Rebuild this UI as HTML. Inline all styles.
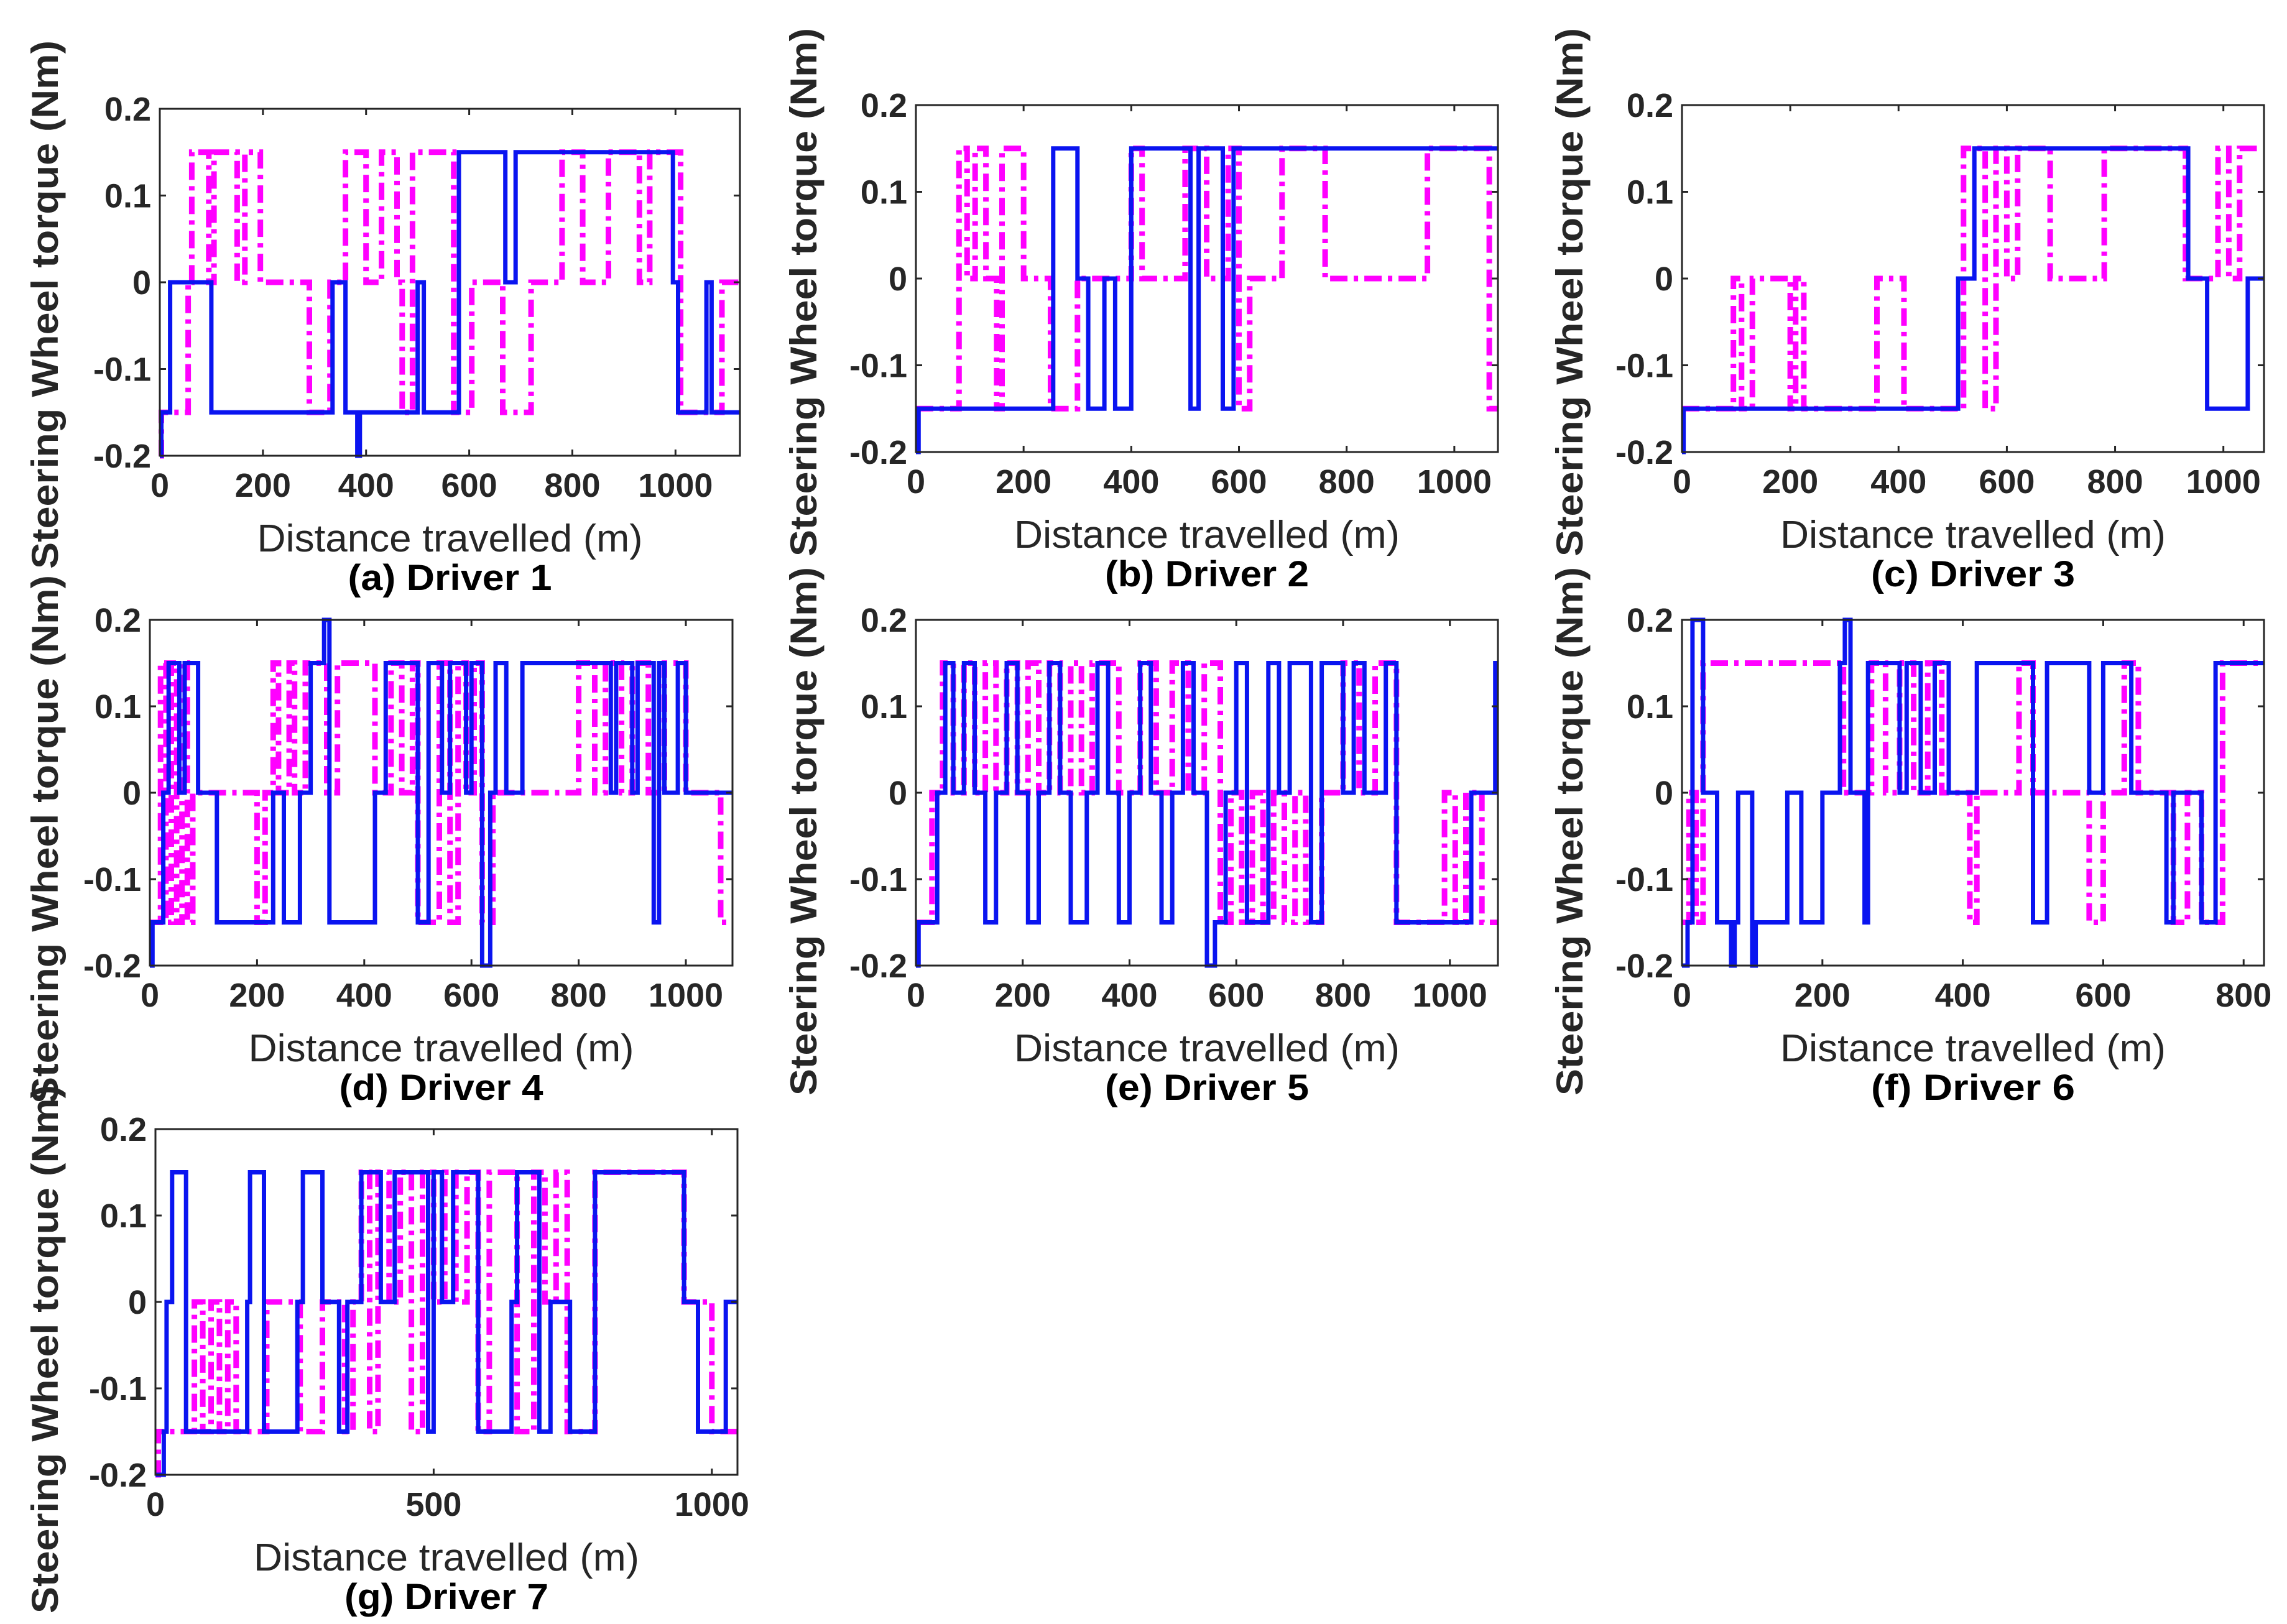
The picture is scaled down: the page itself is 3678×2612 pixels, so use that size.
<!DOCTYPE html>
<html><head><meta charset="utf-8">
<style>
html,body{margin:0;padding:0;background:#fff;}
svg{display:block;}
text{font-family:"Liberation Sans",Arial,sans-serif;}
</style></head>
<body>
<svg id="fig" width="3678" height="2612" viewBox="0 0 3678 2612" xmlns="http://www.w3.org/2000/svg"></svg>
<script>
// ---- data (step series: y[i] holds from x[i] to x[i+1]) ----
const panelTitles = ["(a) Driver 1","(b) Driver 2","(c) Driver 3","(d) Driver 4","(e) Driver 5","(f) Driver 6","(g) Driver 7"];
const xMaxes = [1125,1081,1075,1087,1090,829,1046];
const xTickSets = [[0,200,400,600,800,1000],[0,200,400,600,800,1000],[0,200,400,600,800,1000],[0,200,400,600,800,1000],[0,200,400,600,800,1000],[0,200,400,600,800],[0,500,1000]];
const yTicks = [-0.2,-0.1,0,0.1,0.2];
const yTickLabels = ["-0.2","-0.1","0","0.1","0.2"];

const blueX1 = [0,3,20,100,335,360,383,388,500,512,580,670,690,995,1005,1060,1070,1125];
const blueY1 = [-0.2,-0.15,0,-0.15,0,-0.15,-0.2,-0.15,0,-0.15,0.15,0,0.15,0,-0.15,0,-0.15];
const magX1 = [0,3,55,62,95,105,150,165,195,290,330,360,400,430,460,470,490,570,605,665,720,780,820,870,930,950,1010,1090,1125];
const magY1 = [-0.2,-0.15,0,0.15,0,0.15,0,0.15,0,-0.15,0,0.15,0,0.15,0,-0.15,0.15,-0.15,0,-0.15,0,0.15,0,0.15,0,0.15,-0.15,0];

const blueX2 = [0,5,255,300,320,350,370,400,510,525,570,590,1081];
const blueY2 = [-0.2,-0.15,0.15,0,-0.15,0,-0.15,0.15,-0.15,0.15,-0.15,0.15];
const magX2 = [0,80,95,110,130,150,160,200,250,300,310,400,420,500,540,580,600,620,680,760,950,1065,1081];
const magY2 = [-0.15,0.15,0,0.15,0,-0.15,0.15,0,-0.15,0,0,0.15,0,0.15,0,0.15,-0.15,0,0.15,0,0.15,-0.15,0];

const blueX3 = [0,3,510,540,935,970,1045,1075];
const blueY3 = [-0.2,-0.15,0,0.15,0,-0.15,0];
const magX3 = [0,95,110,130,200,210,225,360,410,520,560,580,600,620,680,780,930,990,1010,1030,1075];
const magY3 = [-0.15,0,-0.15,0,-0.15,0,-0.15,0,-0.15,0.15,-0.15,0.15,0,0.15,0,0.15,0,0.15,0,0.15];

const blueX4 = [0,5,25,35,55,65,90,125,230,250,280,300,325,335,420,440,500,520,545,560,590,600,620,635,645,665,695,700,860,870,900,910,940,950,960,985,1000,1087];
const blueY4 = [-0.2,-0.15,0,0.15,0,0.15,0,-0.15,0,-0.15,0,0.15,0.2,-0.15,0,0.15,-0.15,0.15,0,0.15,0,0.15,-0.2,0,0.15,0,0.15,0.15,0,0.15,0,0.15,-0.15,0.15,0,0.15,0];
const magX4 = [0,20,30,40,50,60,70,80,200,215,230,240,260,270,290,300,330,350,380,420,450,470,490,500,540,560,575,590,605,620,640,800,830,850,880,900,930,960,1000,1065,1087];
const magY4 = [-0.15,0.15,-0.15,0.15,-0.15,0.15,-0.15,0,-0.15,0,0.15,0,0.15,0,0.15,0.15,0,0.15,0.15,0,0.15,0,0.15,-0.15,0.15,-0.15,0.15,0,0.15,-0.15,0,0.15,0,0.15,0,0.15,0,0.15,0,-0.15];

const blueX5 = [0,5,40,55,70,90,110,130,150,170,190,210,230,250,270,290,320,340,360,380,400,420,440,460,480,500,520,545,560,580,600,620,660,680,700,740,760,800,820,840,880,900,1040,1085,1090];
const blueY5 = [-0.2,-0.15,0,0.15,0,0.15,0,-0.15,0,0.15,0,-0.15,0,0.15,0,-0.15,0,0.15,0,-0.15,0,0.15,0,-0.15,0,0.15,0,-0.2,-0.15,0,0.15,-0.15,0.15,0,0.15,-0.15,0.15,0,0.15,0,0.15,-0.15,0,0.15];
const magX5 = [0,30,50,70,90,110,130,150,170,190,210,230,250,270,290,310,330,350,380,420,450,480,510,540,570,590,610,630,650,670,690,710,730,760,800,830,860,900,940,990,1010,1030,1060,1090];
const magY5 = [-0.15,0,0.15,0,0.15,0,0.15,0,0.15,0,0.15,0,0.15,0,0.15,0,0.15,0.15,0,0.15,0,0.15,0,0.15,-0.15,0,-0.15,0,-0.15,0,-0.15,0,-0.15,0,0.15,0,0.15,-0.15,-0.15,0,-0.15,0,-0.15];

const blueX6 = [0,8,15,30,50,70,75,80,100,105,110,150,170,200,225,232,240,260,265,310,320,340,360,380,420,500,520,580,600,640,690,700,740,760,829];
const blueY6 = [-0.2,-0.15,0.2,0,-0.15,-0.2,-0.15,0,-0.2,-0.15,-0.15,0,-0.15,0,0.15,0.2,0,-0.15,0.15,0,0.15,0,0.15,0,0.15,-0.15,0.15,0,0.15,0,-0.15,0,-0.15,0.15];
const magX6 = [0,10,20,30,230,270,290,310,330,350,370,410,420,480,500,580,600,630,650,700,720,740,770,829];
const magY6 = [-0.15,0,-0.15,0.15,0,0.15,0,0.15,0,0.15,0,-0.15,0,0.15,0,-0.15,0,0.15,0,-0.15,0,-0.15,0.15];

const blueX7 = [0,15,20,30,55,165,170,195,255,265,300,330,345,370,405,430,490,500,515,535,580,640,650,690,710,745,790,950,975,1025,1046];
const blueY7 = [-0.2,-0.15,0,0.15,-0.15,0,0.15,-0.15,0,0.15,0,-0.15,0,0.15,0,0.15,-0.15,0.15,0,0.15,-0.15,0,0.15,-0.15,0,-0.15,0.15,0,-0.15,0];
const magX7 = [0,5,70,85,100,115,130,145,160,200,260,300,340,355,370,385,400,420,440,460,480,500,520,540,560,580,600,650,680,700,720,740,790,950,1000,1046];
const magY7 = [-0.2,-0.15,0,-0.15,0,-0.15,0,-0.15,-0.15,0,-0.15,0,-0.15,0,0.15,-0.15,0.15,0,0.15,-0.15,0.15,0,0.15,0,0.15,-0.15,0.15,-0.15,0.15,0,0.15,-0.15,0.15,0,-0.15];

const blueXs = [blueX1,blueX2,blueX3,blueX4,blueX5,blueX6,blueX7];
const blueYs = [blueY1,blueY2,blueY3,blueY4,blueY5,blueY6,blueY7];
const magXs = [magX1,magX2,magX3,magX4,magX5,magX6,magX7];
const magYs = [magY1,magY2,magY3,magY4,magY5,magY6,magY7];

// ---- layout ----
const boxes = [
 {l:257,t:175,r:1190,b:733,yl:72,yc:490},
 {l:1473,t:169,r:2409,b:727,yl:1292,yc:470},
 {l:2705,t:169,r:3641,b:727,yl:2524,yc:470},
 {l:241,t:997,r:1178,b:1553,yl:72,yc:1350},
 {l:1473,t:997,r:2409,b:1553,yl:1292,yc:1337},
 {l:2705,t:997,r:3641,b:1553,yl:2524,yc:1337},
 {l:250,t:1816,r:1186,b:2372,yl:72,yc:2170}
];
const NS='http://www.w3.org/2000/svg';
const svg=document.getElementById('fig');
function mk(tag,attrs,parent){const e=document.createElementNS(NS,tag);for(const k in attrs)e.setAttribute(k,attrs[k]);(parent||svg).appendChild(e);return e;}

boxes.forEach((B,pi)=>{
  const g=mk('g',{});
  
  
  const xMax=xMaxes[pi];
  const sx=v=>B.l+(v/xMax)*(B.r-B.l);
  const sy=v=>B.b-((v+0.2)/0.4)*(B.b-B.t);
  const clip=mk('clipPath',{id:'c'+pi},g);
  mk('rect',{x:B.l-6,y:B.t-6,width:B.r-B.l+12,height:B.b-B.t+12},clip);
  function stepPath(xs,ys){
    let d='';const n=Math.min(ys.length,xs.length-1);
    for(let i=0;i<n;i++){
      const x0=sx(xs[i]),x1=sx(xs[i+1]),y=sy(ys[i]);
      d+=(i===0?'M':'L')+x0.toFixed(1)+' '+y.toFixed(1)+'L'+x1.toFixed(1)+' '+y.toFixed(1);
    }
    return d;
  }
  const mp=mk('path',{d:stepPath(magXs[pi],magYs[pi]),fill:'none',stroke:'#ff00ff','stroke-width':9,'stroke-dasharray':'28 10 7 10','clip-path':'url(#c'+pi+')'},g);
  
  
  const bp=mk('path',{d:stepPath(blueXs[pi],blueYs[pi]),fill:'none',stroke:'#0a14f0','stroke-width':7,'clip-path':'url(#c'+pi+')'},g);
  
  
  const bx=mk('rect',{x:B.l,y:B.t,width:B.r-B.l,height:B.b-B.t,fill:'none',stroke:'#262626','stroke-width':3},g);
  
  
  yTicks.forEach((v,i)=>{
    const y=sy(v);
    mk('line',{x1:B.l,y1:y,x2:B.l+10,y2:y,stroke:'#262626','stroke-width':3},g);
    mk('line',{x1:B.r,y1:y,x2:B.r-10,y2:y,stroke:'#262626','stroke-width':3},g);
    const t=mk('text',{x:B.l-14,y:y+19,'text-anchor':'end','font-size':54,'font-weight':'bold',fill:'#262626'},g);
    t.textContent=yTickLabels[i];
    
    
  });
  xTickSets[pi].forEach(v=>{
    const x=sx(v);
    mk('line',{x1:x,y1:B.b,x2:x,y2:B.b-10,stroke:'#262626','stroke-width':3},g);
    mk('line',{x1:x,y1:B.t,x2:x,y2:B.t+10,stroke:'#262626','stroke-width':3},g);
    const t=mk('text',{x:x,y:B.b+66,'text-anchor':'middle','font-size':54,'font-weight':'bold',fill:'#262626'},g);
    t.textContent=String(v);
    
    
  });
  const cx=(B.l+B.r)/2;
  const xl=mk('text',{x:cx,y:B.b+154,'text-anchor':'middle','font-size':62,fill:'#262626',textLength:620,lengthAdjust:'spacingAndGlyphs'},g);
  xl.textContent='Distance travelled (m)';
  
  
  const tt=mk('text',{x:cx,y:B.b+216,'text-anchor':'middle','font-size':58,'font-weight':'bold',fill:'#000',textLength:328,lengthAdjust:'spacingAndGlyphs'},g);
  tt.textContent=panelTitles[pi];
  
  
  const yl=mk('text',{x:B.yl,y:B.yc,'text-anchor':'middle','font-size':60,'font-weight':'bold',fill:'#262626',transform:'rotate(-90 '+B.yl+' '+B.yc+')',dy:21,textLength:850,lengthAdjust:'spacingAndGlyphs'},g);
  yl.textContent='Steering Wheel torque (Nm)';
  
  
});
</script>
</body></html>
